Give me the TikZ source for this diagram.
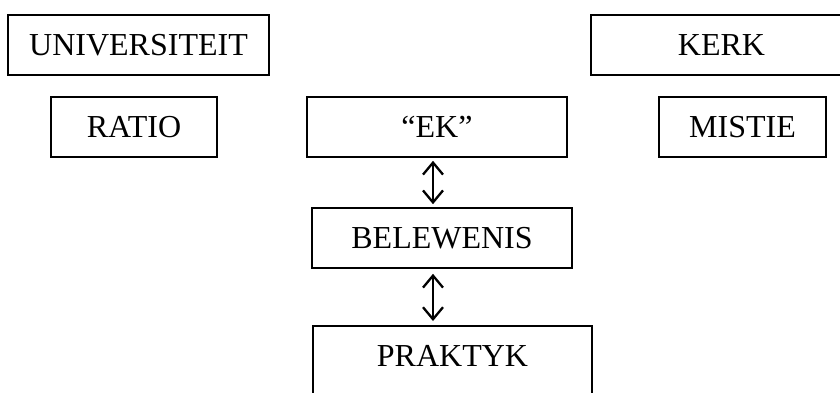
\documentclass[tikz,border=0pt]{standalone}
\usepackage{fontspec}
\setmainfont{Liberation Serif}
\usetikzlibrary{arrows.meta}
\tikzset{
  box/.style={draw, line width=1.6pt, inner sep=0pt, font=\fontsize{32}{38}\selectfont},
  dbl/.style={line width=2.3pt, {Straight Barb[length=12pt,width=20pt,line width=2.3pt]}-{Straight Barb[length=12pt,width=20pt,line width=2.3pt]}}
}
\begin{document}
\begin{tikzpicture}[x=1pt,y=-1pt]
\useasboundingbox (0,0) rectangle (840,392);
\clip (0,0) rectangle (840,392);
\node[box, minimum width=261pt, minimum height=60pt] (univ) at (138.5,45) {UNIVERSITEIT};
\node[box, minimum width=261pt, minimum height=60pt] (kerk) at (721.5,45) {KERK};
\node[box, minimum width=166pt, minimum height=60pt] (ratio) at (134,127) {RATIO};
\node[box, minimum width=260pt, minimum height=60pt] (ek) at (437,127) {``EK''};
\node[box, minimum width=167pt, minimum height=60pt] (mistie) at (742.5,127) {MISTIE};
\node[box, minimum width=260pt, minimum height=60pt] (bel) at (442,238) {BELEWENIS};
\node[box, minimum width=279pt, text height=41pt, text depth=40pt, anchor=north] (prak) at (452.5,325) {PRAKTYK};
\coordinate (ax) at (433,0);
\draw[dbl, shorten <=3pt, shorten >=3pt] (ek.south -| ax) -- (bel.north -| ax);
\draw[dbl, shorten <=5pt, shorten >=4pt] (bel.south -| ax) -- (prak.north -| ax);
\end{tikzpicture}
\end{document}
